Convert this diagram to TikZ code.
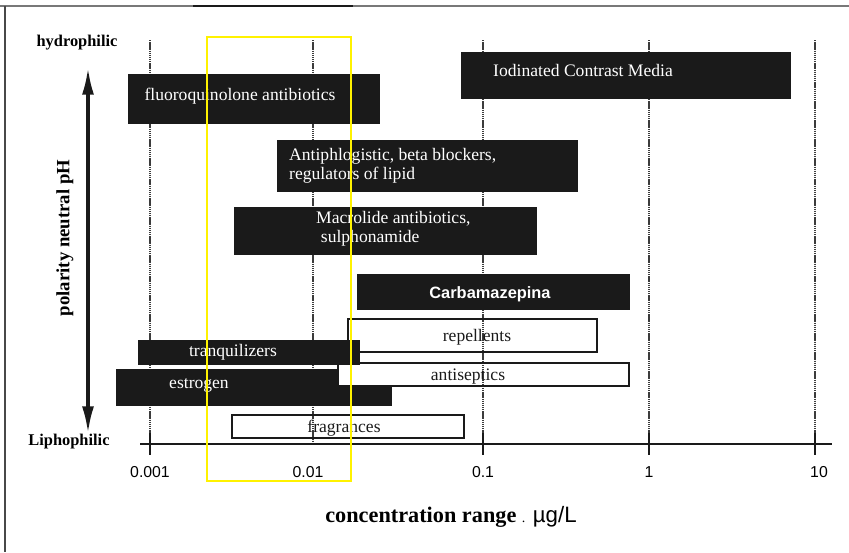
\documentclass[tikz,border=0pt]{standalone}
\usepackage{fontspec}
\setmainfont{Liberation Serif}
\setsansfont{Liberation Sans}
\definecolor{barblack}{RGB}{26, 26, 26}
\definecolor{framegray}{RGB}{120, 120, 120}
\usetikzlibrary{arrows.meta, positioning}

\begin{document}
\begin{tikzpicture}[
  x=0.03cm, y=-0.03cm,
  blackbar/.style={fill=barblack, draw=barblack},
  whitebox/.style={draw=barblack, line width=1.3pt},
  bartext/.style={text=white, font=\fontsize{15}{16}\selectfont, inner sep=0pt},
  boxtext/.style={text=barblack, font=\fontsize{15}{16}\selectfont, inner sep=0pt},
  sidelabel/.style={font=\fontsize{14}{16}\selectfont\bfseries, inner sep=0pt},
  ticklabel/.style={font=\fontsize{13.5}{15}\sffamily, inner sep=0pt},
  gridline/.style={dash pattern=on 1.2pt off 0.6pt, line width=1pt, barblack!85},
  axisline/.style={line width=1.6pt, barblack},
  polarrow/.style={{Latex[length=0.8cm, width=0.36cm]}-{Latex[length=0.8cm, width=0.36cm]}, line width=2.6pt, barblack}
]
  \useasboundingbox (0,0) rectangle (849,552);

  % frame
  \draw[framegray, line width=1pt] (0,6) -- (849,6);
  \draw[barblack, line width=1.6pt] (193,6) -- (353,6);
  \draw[framegray!60!black, line width=1.4pt] (5,6) -- (5,552);

  % grid and axis
  \foreach \gx in {150, 313, 483, 649, 815}
    \draw[gridline] (\gx,40) -- (\gx,444);
  \draw[axisline] (140,444) -- (832,444);
  \foreach \gx in {150, 483, 649, 815}
    \draw[axisline] (\gx,433) -- (\gx,455);

  \node[ticklabel] (t0) at (150,472) {0.001};
  \node[ticklabel] (t1) at (308,472) {0.01};
  \node[ticklabel] (t2) at (483,472) {0.1};
  \node[ticklabel] (t3) at (649,472) {1};
  \node[ticklabel] (t4) at (819,472) {10};
  \node[inner sep=0pt] (xtitle) at (451,517)
    {\fontsize{19}{21}\selectfont\bfseries concentration range {\normalfont\fontsize{12}{14}\selectfont .} {\normalfont\sffamily µg/L}};

  % polarity axis
  \node[sidelabel] (hydro) at (77,43) {hydrophilic};
  \node[sidelabel] (lipo) at (69,442) {Liphophilic};
  \draw[polarrow] (88,68) -- (88,433);
  \node[sidelabel, font=\fontsize{16}{18}\selectfont\bfseries, rotate=90] (polar) at (65,238) {polarity neutral pH};

  % classes
  \fill[blackbar] (461,52) rectangle (790,98);
  \node[bartext, anchor=west] (iodine) at (493,70) {Iodinated Contrast Media};

  \fill[blackbar] (128,74) rectangle (379,123);
  \node[bartext] (fluoro) at (240,96) {fluoroquinolone antibiotics};

  \fill[blackbar] (277,140) rectangle (577,191);
  \node[bartext, anchor=west, align=left] (antiphlog) at (289,166)
    {Antiphlogistic, beta blockers,\\regulators of lipid};

  \fill[blackbar] (234,207) rectangle (536,254);
  \node[bartext, anchor=west, align=left] (macro) at (316,229)
    {Macrolide antibiotics,\\\hspace{4pt}sulphonamide};

  \fill[blackbar] (357,274) rectangle (629,309);
  \node[bartext, font=\fontsize{14}{16}\sffamily\bfseries] (carba) at (490,294) {Carbamazepina};

  \draw[whitebox] (348,319) rectangle (597,352);
  \node[boxtext] (repel) at (477,337) {repellents};

  \fill[blackbar] (138,340) rectangle (359,364);
  \node[bartext] (tranq) at (233,352) {tranquilizers};

  \fill[blackbar] (116,369) -- (338,369) -- (338,386) -- (391,386) -- (391,405) -- (116,405) -- cycle;
  \node[bartext] (estro) at (199,385) {estrogen};

  \draw[whitebox] (338,363) rectangle (629,386);
  \node[boxtext] (antisep) at (468,377) {antiseptics};

  \draw[whitebox] (232,415) rectangle (464,438);
  \node[boxtext] (fragr) at (344,428) {fragrances};

  % selected range
  \draw[yellow, line width=1.8pt] (207,37) rectangle (351,481);
\end{tikzpicture}
\end{document}
